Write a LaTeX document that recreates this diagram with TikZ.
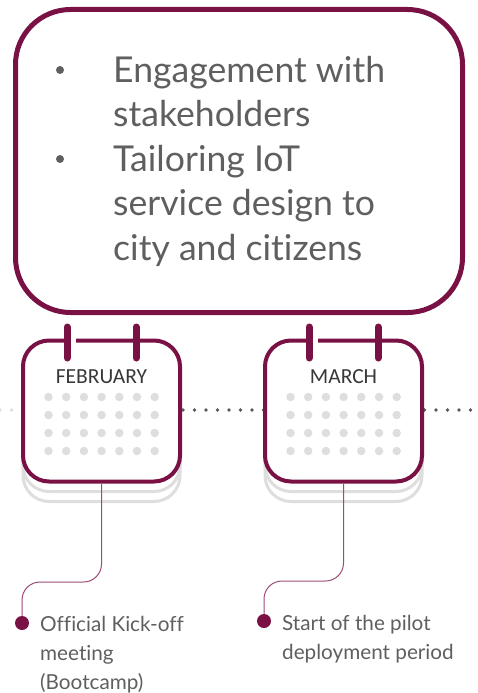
\documentclass[tikz,border=0pt]{standalone}
\usepackage{fontspec}
\setmainfont[Ligatures=NoCommon]{Lato}
\newfontfamily\calfont{Carlito}
\usetikzlibrary{positioning}
\definecolor{wine}{HTML}{7A1145}
\definecolor{lightdot}{HTML}{DEDEDE}
\definecolor{darkdot}{HTML}{595959}
\definecolor{bodytext}{HTML}{5F5F5F}
\tikzset{
	mainbox/.style={draw=wine, line width=5pt, fill=white, rounded corners=55pt, minimum width=447pt, minimum height=303pt},
	calbox/.style={draw=wine, line width=4pt, fill=white, rounded corners=26pt, minimum width=157pt, minimum height=141pt},
	calshadow/.style={draw=lightdot, line width=3pt, fill=white, rounded corners=26pt, minimum width=157pt, minimum height=141pt},
	calring/.style={draw=wine, line width=7pt, line cap=round},
	calname/.style={font=\calfont\fontsize{21.5}{24}\selectfont, text=black!78},
	bigtext/.style={font=\fontsize{35.6}{44.5}\selectfont, text=bodytext, align=left, anchor=north west, inner sep=0pt},
	bigdot/.style={circle, fill=bodytext, inner sep=0pt, minimum size=8pt},
	smalltext/.style={font=\fontsize{20.7}{29}\selectfont, text=bodytext, align=left, anchor=north west, inner sep=0pt},
	griddot/.style={circle, fill=lightdot, inner sep=0pt, minimum size=8.5pt},
	enddot/.style={circle, fill=wine, inner sep=0pt, minimum size=14pt},
	leader/.style={draw=wine!75, line width=1pt, rounded corners=18pt},
	timedot/.style={line width=3.6pt, line cap=round, dash pattern=on 0pt off 11.5pt}
}
\begin{document}
\begin{tikzpicture}[x=1pt, y=-1pt]
	\useasboundingbox (0,0) rectangle (477,693);

	% Text box on top
	\node [mainbox] (topbox) at (239,161) {};
	\node [bigdot] (b1) at (60,70) {};
	\node [bigdot] (b2) at (60,159) {};
	\node [bigtext] (toptext) at (113,56) {Engagement with\\stakeholders\\Tailoring IoT\\service design to\\city and citizens};

	% Dotted time line
	\coordinate (tl0) at (0,410);
	\coordinate (tl1) at (183,410);
	\coordinate (tl2) at (477,410);
	\draw [timedot, draw=lightdot] (tl0) -- (tl1);
	\draw [timedot, draw=darkdot] (tl1) -- (tl2);

	% Calendars {name, centre x}
	\foreach \cal/\cx/\month in {feb/101.5/FEBRUARY, mar/343.5/MARCH} {
		\node [calshadow] (\cal s2) at (\cx,431) {};
		\node [calshadow] (\cal s1) at (\cx,421) {};
		\node [calbox] (\cal) at (\cx,411) {};
		\node [calname] (\cal name) at (\cx,377) {\month};
		% gap in the top edge
		\fill [white] (\cx-30.5,337) rectangle (\cx-25.5,343);
		\draw [calring] (\cx-34.5,327) -- (\cx-34.5,358);
		\draw [calring] (\cx+34.5,327) -- (\cx+34.5,358);
		\foreach \row in {0,...,3} {
			\foreach \col in {0,...,6} {
				\node [griddot] (\cal-\row-\col) at (\cx-53+17.7*\col,397+18*\row) {};
			}
		}
	}

	% End dots and labels
	\node [enddot] (febdot) at (22,623) {};
	\node [enddot] (mardot) at (264,621) {};
	\node [smalltext] (feblabel) at (40,616) {Official Kick-off\\meeting\\(Bootcamp)};
	\node [smalltext] (marlabel) at (282,615) {Start of the pilot\\deployment period};

	% Leaders
	\coordinate (febbend) at (102,582);
	\coordinate (marbend) at (344,581);
	\draw [leader] (feb.south) -- (feb.south |- febbend) -- (febbend -| febdot) -- (febdot);
	\draw [leader] (mar.south) -- (mar.south |- marbend) -- (marbend -| mardot) -- (mardot);
\end{tikzpicture}
\end{document}
